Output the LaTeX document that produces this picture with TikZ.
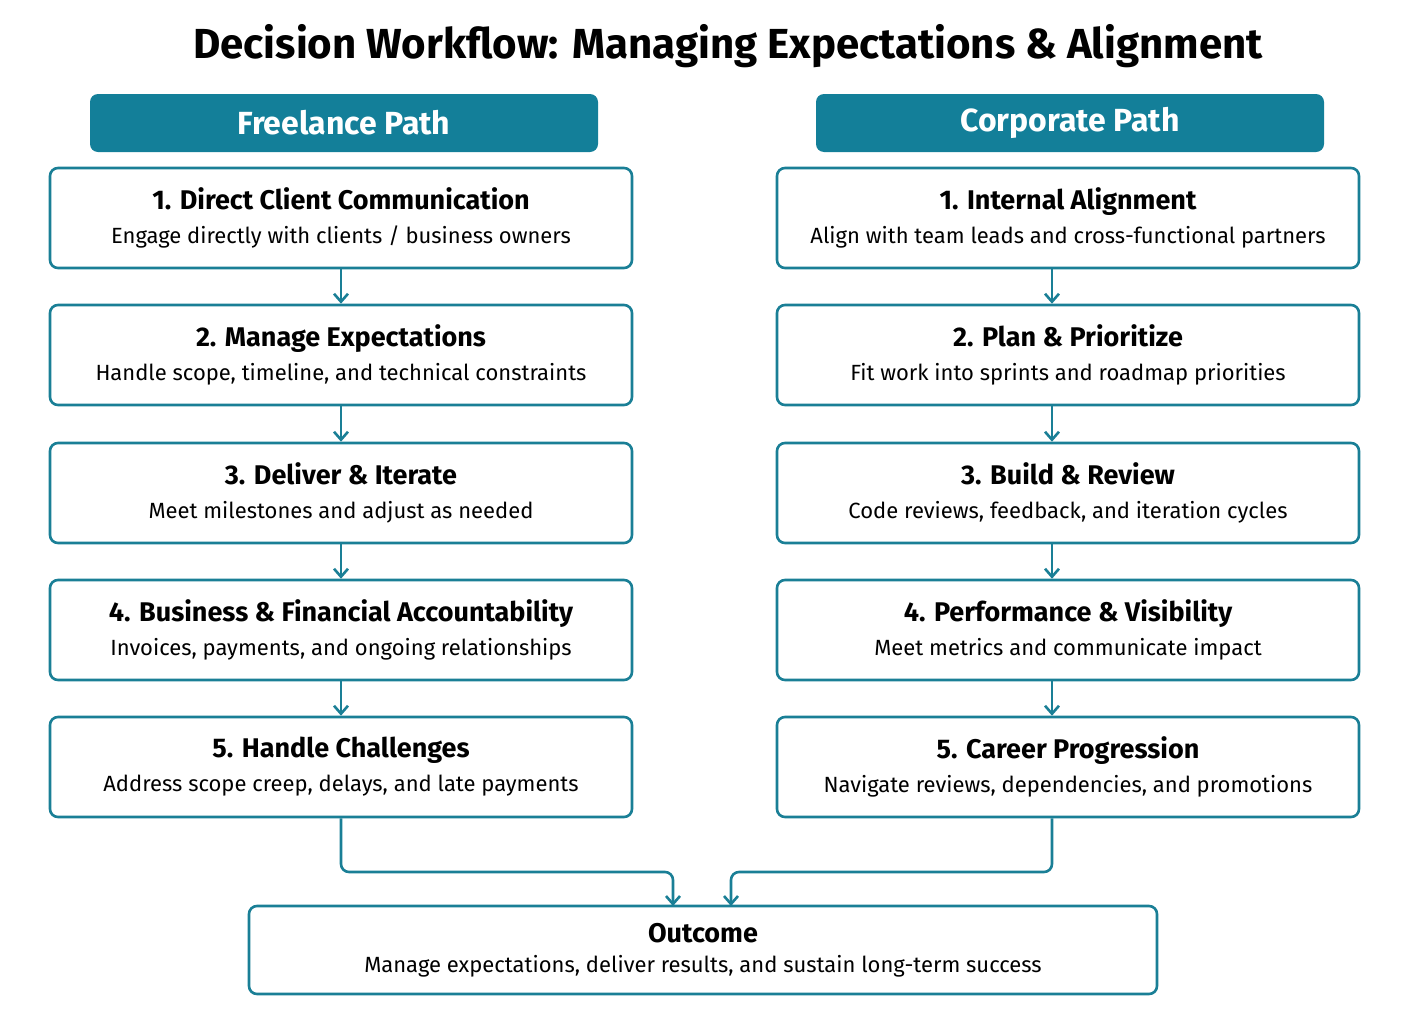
\documentclass[tikz,border=0pt]{standalone}
\usepackage{fontspec}
\setmainfont{Fira Sans}
\usetikzlibrary{arrows.meta}
\definecolor{teal}{HTML}{1A7F96}
\definecolor{hdr}{HTML}{137F99}
\begin{document}
\begin{tikzpicture}[x=0.5pt,y=-0.5pt,
 box/.style={draw=teal,line width=1.3pt,rounded corners=4pt,fill=white,minimum width=291pt,minimum height=50pt,align=center,inner sep=0pt},
 hd/.style={fill=hdr,rounded corners=4pt,minimum width=254pt,minimum height=29pt,text=white,font=\fontsize{16}{18}\selectfont\bfseries,inner sep=0pt},
 arr/.style={draw=teal,line width=1.3pt,-{Straight Barb[length=4pt,width=7pt]}},
 t/.style={font=\fontsize{13.5}{16}\selectfont\bfseries},
 s/.style={font=\fontsize{11}{13}\selectfont}]
\useasboundingbox (0,0) rectangle (1410,1023);
\node[font=\fontsize{21}{24}\selectfont\bfseries] (title) at (728,46) {Decision Workflow: Managing Expectations \& Alignment};
\node[hd] (hl) at (344,123) {Freelance Path};
\node[hd] (hr) at (1070,123) {Corporate Path};
\newcommand{\bx}[5]{\node[box] (#1) at (#2,#3) {{\fontsize{13.5}{16}\selectfont\bfseries #4}\\[5pt]{\fontsize{11}{13}\selectfont #5}};}
\bx{l1}{341}{218}{1. Direct Client Communication}{Engage directly with clients / business owners}
\bx{l2}{341}{355}{2. Manage Expectations}{Handle scope, timeline, and technical constraints}
\bx{l3}{341}{493}{3. Deliver \& Iterate}{Meet milestones and adjust as needed}
\bx{l4}{341}{630}{4. Business \& Financial Accountability}{Invoices, payments, and ongoing relationships}
\bx{l5}{341}{767}{5. Handle Challenges}{Address scope creep, delays, and late payments}
\bx{r1}{1068}{218}{1. Internal Alignment}{Align with team leads and cross-functional partners}
\bx{r2}{1068}{355}{2. Plan \& Prioritize}{Fit work into sprints and roadmap priorities}
\bx{r3}{1068}{493}{3. Build \& Review}{Code reviews, feedback, and iteration cycles}
\bx{r4}{1068}{630}{4. Performance \& Visibility}{Meet metrics and communicate impact}
\bx{r5}{1068}{767}{5. Career Progression}{Navigate reviews, dependencies, and promotions}
\node[box,minimum width=454pt,minimum height=44pt] (out) at (703,950) {{\fontsize{13.5}{16}\selectfont\bfseries Outcome}\\[3pt]{\fontsize{11}{13}\selectfont Manage expectations, deliver results, and sustain long-term success}};
\foreach \a/\b in {l1/l2,l2/l3,l3/l4,l4/l5}{\draw[arr] (\a.south) -- (\b.north);}
\foreach \a/\b in {r1/r2,r2/r3,r3/r4,r4/r5}{\draw[arr] ([xshift=-8pt]\a.south) -- ([xshift=-8pt]\b.north);}
\coordinate (ol) at (673,906);
\coordinate (or) at (731,906);
\draw[arr,rounded corners=4pt] (l5.south) |- (673,872) -- (ol);
\draw[arr,rounded corners=4pt] ([xshift=-8pt]r5.south) |- (731,872) -- (or);
\end{tikzpicture}
\end{document}
